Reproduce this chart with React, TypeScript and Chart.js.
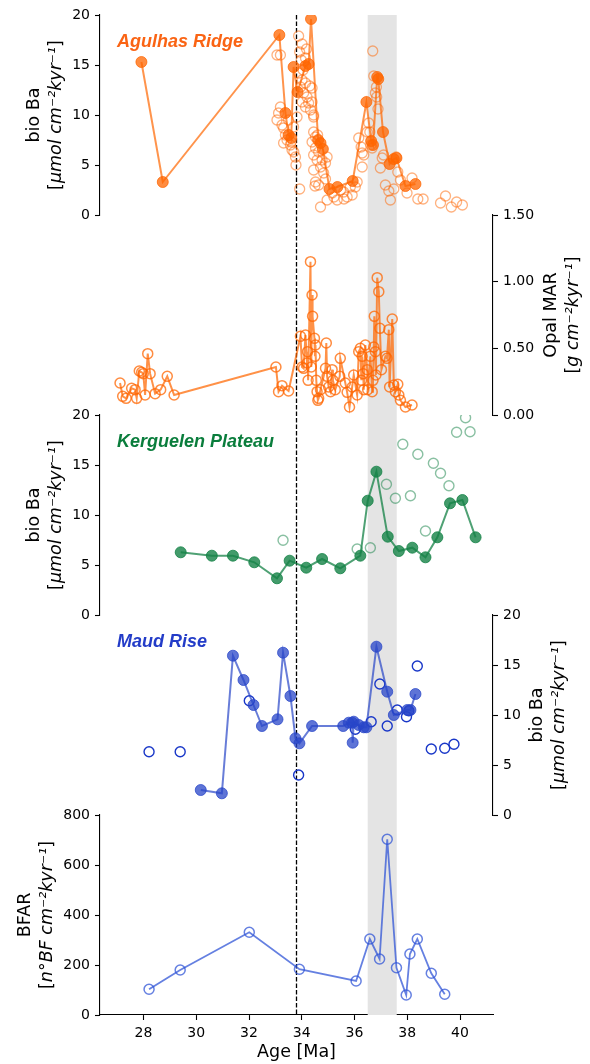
import React, { useEffect, useRef } from 'react';
import { Chart, registerables } from 'chart.js';

Chart.register(...registerables);

// ---------- tick labels ----------
const ageTicks = [28, 30, 32, 34, 36, 38, 40];
const baTicks = [0, 5, 10, 15, 20];
const opalTicks = [0, 0.25, 0.5, 0.75, 1.0, 1.25, 1.5];
const bfarTicks = [0, 200, 400, 600, 800];

// ---------- events ----------
const eotAge = 33.8;
const bandAges = [36.5, 37.6];

// ---------- Agulhas Ridge bio Ba ----------
const agFilledAge = [27.92, 28.73, 33.15, 33.38, 33.5, 33.6, 33.69, 33.84, 34.14, 34.26, 34.35, 34.62, 34.71, 34.8, 35.05, 35.35, 35.93, 36.45, 36.63, 36.7, 36.86, 36.9, 37.08, 37.33, 37.49, 37.59, 37.93, 38.31];
const agFilledBa = [15.3, 3.3, 18.0, 10.2, 8.0, 7.7, 14.8, 12.3, 14.9, 15.1, 19.6, 7.5, 7.2, 6.6, 2.6, 2.8, 3.4, 11.3, 7.4, 7.0, 13.8, 13.6, 8.3, 5.1, 5.6, 5.7, 2.9, 3.1];

const agOpenAge = [33.06, 33.19, 33.88, 33.92, 34.01, 34.14, 34.05, 33.88, 34.01, 33.95, 34.14, 34.07, 34.2, 34.01, 34.26, 34.39, 34.33, 34.45, 34.14, 34.3, 34.39, 34.45, 34.18, 33.98,
  33.19, 33.06, 33.25, 33.12, 33.31, 33.38, 33.44, 33.31, 33.57, 33.63, 33.76, 33.6, 33.69, 33.82, 33.5, 33.78, 33.7, 33.92,
  34.39, 34.52, 34.45, 34.64, 34.58, 34.77, 34.71, 34.9, 34.83, 34.96, 34.52, 34.64, 34.45, 34.9, 34.71, 34.5, 34.6, 34.45, 34.52,
  35.15, 35.34, 35.59, 35.72, 35.91, 35.84, 36.03, 34.96, 35.22, 35.47, 35.6,
  36.16, 36.25, 36.35, 36.29, 36.1, 36.29,
  36.69, 36.73, 36.83, 36.79, 36.89, 36.54, 36.48, 36.67, 36.58, 36.62, 36.84,
  37.05, 36.98, 37.17, 37.3, 37.36, 37.49, 37.64, 37.74, 37.99, 38.18, 38.4, 38.6, 39.26, 39.45, 39.67, 39.87, 40.09, 37.1, 37.58];
const agOpenBa = [16.0, 16.0, 17.9, 16.3, 17.1, 15.7, 14.5, 14.2, 13.5, 12.8, 13.2, 12.2, 11.8, 11.3, 11.2, 12.7, 10.5, 9.8, 10.8, 12.9, 11.3, 10.0, 16.6, 15.5,
  10.8, 9.5, 9.0, 10.2, 8.7, 8.0, 7.5, 7.2, 7.0, 6.5, 5.8, 7.3, 8.8, 9.8, 9.5, 5.0, 6.3, 2.6,
  7.3, 6.7, 6.0, 6.3, 5.5, 5.5, 4.8, 5.2, 4.2, 5.8, 3.3, 3.0, 4.5, 3.6, 0.8, 2.9, 8.0, 8.3, 7.8,
  2.2, 1.5, 2.3, 1.8, 2.0, 2.8, 2.8, 1.5, 1.8, 2.5, 1.6,
  7.7, 6.8, 6.0, 4.8, 3.3, 6.2,
  16.4, 13.9, 12.8, 12.2, 10.6, 9.2, 8.3, 6.7, 8.3, 7.0, 11.8,
  5.7, 4.7, 3.0, 2.4, 1.5, 2.6, 4.3, 3.5, 2.2, 3.7, 1.6, 1.6, 1.2, 1.9, 0.8, 1.3, 1.0, 6.0, 5.8];

// ---------- Agulhas Ridge opal MAR ----------
const opalAge = [27.11, 27.21, 27.34, 27.55, 27.68, 27.74, 27.84, 27.93, 27.99, 28.06, 28.16, 28.25, 28.44, 28.65, 28.9, 29.16,
  33.02, 33.12, 33.25, 33.5, 33.95, 34.01, 34.07, 34.14, 34.2, 34.22, 34.24, 34.33, 34.36, 34.39, 34.41, 34.48, 34.5, 34.52, 34.55, 34.58, 34.61, 34.64, 34.71,
  34.9, 34.93, 34.96, 35.02, 35.09, 35.15, 35.18, 35.27, 35.44, 35.46, 35.65, 35.72, 35.81, 35.91, 35.97, 36.1, 36.16, 36.22, 36.26, 36.29, 36.33, 36.35,
  36.41, 36.48, 36.5, 36.6, 36.67, 36.7, 36.73, 36.75, 36.79, 36.81, 36.86, 36.92, 36.96, 37.02, 37.17, 37.23, 37.3, 37.33, 37.43, 37.49, 37.55, 37.64, 37.68, 37.74, 37.93, 38.18];
const opalMar = [0.24, 0.14, 0.125, 0.2, 0.19, 0.125, 0.33, 0.32, 0.31, 0.15, 0.46, 0.31, 0.16, 0.19, 0.29, 0.15,
  0.36, 0.175, 0.22, 0.18, 0.59, 0.36, 0.35, 0.6, 0.39, 0.475, 0.26, 1.15, 0.36, 0.9, 0.74, 0.575, 0.44, 0.525, 0.26, 0.175, 0.11, 0.125, 0.19,
  0.35, 0.54, 0.29, 0.21, 0.175, 0.34, 0.26, 0.19, 0.29, 0.425, 0.24, 0.17, 0.06, 0.21, 0.3, 0.15, 0.475, 0.5, 0.26, 0.44, 0.31, 0.19,
  0.525, 0.34, 0.19, 0.44, 0.175, 0.26, 0.51, 0.74, 0.475, 0.3, 1.03, 0.925, 0.65, 0.34, 0.44, 0.425, 0.64, 0.21, 0.72, 0.225, 0.175, 0.23, 0.15, 0.11, 0.06, 0.075];

// ---------- Kerguelen Plateau bio Ba ----------
const kgFilledAge = [29.41, 30.59, 31.39, 32.2, 33.06, 33.54, 34.17, 34.77, 35.46, 36.22, 36.5, 36.83, 37.26, 37.68, 38.19, 38.69, 39.14, 39.62, 40.09, 40.59];
const kgFilledBa = [6.27, 5.93, 5.93, 5.27, 3.67, 5.43, 4.73, 5.6, 4.67, 5.93, 11.43, 14.33, 7.83, 6.4, 6.73, 5.77, 7.77, 11.17, 11.5, 7.77];
const kgOpenAge = [33.29, 36.1, 36.6, 37.21, 37.55, 37.83, 38.12, 38.4, 38.69, 38.99, 39.26, 39.58, 39.87, 40.21, 40.38];
const kgOpenBa = [7.47, 6.6, 6.73, 13.07, 11.67, 17.07, 11.93, 16.07, 8.4, 15.17, 14.17, 12.93, 18.27, 19.73, 18.33];

// ---------- Maud Rise bio Ba ----------
const mrFilledAge = [30.17, 30.97, 31.39, 31.79, 32.17, 32.49, 33.08, 33.29, 33.57, 33.76, 33.91, 34.39, 35.57, 35.78, 35.91, 35.93, 35.97, 36.16, 36.35, 36.45, 36.83, 37.24, 37.49, 38.0, 38.12, 38.31];
const mrFilledBa = [2.5, 2.17, 15.93, 13.5, 11.0, 8.9, 9.57, 16.23, 11.9, 7.67, 7.17, 8.9, 8.9, 9.23, 9.23, 7.23, 9.33, 9.0, 8.77, 8.77, 16.83, 12.33, 10.0, 10.5, 10.5, 12.1];
const mrOpenAge = [28.21, 29.39, 32.01, 33.88, 36.03, 36.63, 36.96, 37.24, 37.62, 37.97, 38.06, 38.38, 38.91, 39.42, 39.77];
const mrOpenBa = [6.33, 6.33, 11.43, 4.0, 8.57, 9.33, 13.1, 8.9, 10.5, 9.83, 10.43, 14.9, 6.6, 6.67, 7.07];

// ---------- Maud Rise BFAR ----------
const bfarAge = [28.21, 29.39, 32.01, 33.91, 36.06, 36.58, 36.95, 37.24, 37.59, 37.96, 38.1, 38.38, 38.91, 39.42];
const bfarVal = [103, 180, 331, 183, 136, 304, 224, 703, 189, 80, 244, 304, 167, 83];

// ---------- styling ----------
const ORANGE = '255,102,0';
const GREEN = '20,130,70';
const BLUE = '40,70,200';
const BFBLUE = '50,85,215';

const TICK_SIZE = 14;
const TICK_FONT = `${TICK_SIZE}px "DejaVu Sans"`;
const TITLE_REG = '17.5px "DejaVu Sans"';
const TITLE_IT = 'italic 17.5px "DejaVu Sans"';
const LEFT_W = 100;
const RIGHT_W = 97;
const TICK_LEN = 5;
const TICK_PAD = 5;

const pts = (xs: number[], ys: number[]) => xs.map((x, i) => ({ x, y: ys[i] }));

type Seg = { t: string; it: boolean };
const unitSegs = (u: string): Seg[] => [
  { t: '[', it: false },
  { t: u, it: true },
  { t: ']', it: false },
];

const axisTitles: Record<string, { l1: string; l2: Seg[] }> = {
  yAg: { l1: 'bio Ba', l2: unitSegs('μmol cm⁻²kyr⁻¹') },
  yOpal: { l1: 'Opal MAR', l2: unitSegs('g cm⁻²kyr⁻¹') },
  yKg: { l1: 'bio Ba', l2: unitSegs('μmol cm⁻²kyr⁻¹') },
  yMr: { l1: 'bio Ba', l2: unitSegs('μmol cm⁻²kyr⁻¹') },
  yBf: { l1: 'BFAR', l2: unitSegs('n°BF cm⁻²kyr⁻¹') },
};

const panelLabels = [
  { axis: 'yAg', text: 'Agulhas Ridge', color: 'rgb(250,100,20)' },
  { axis: 'yKg', text: 'Kerguelen Plateau', color: 'rgb(10,125,60)' },
  { axis: 'yMr', text: 'Maud Rise', color: 'rgb(35,60,200)' },
];

function drawRotated(ctx: CanvasRenderingContext2D, segs: Seg[], cx: number, cy: number) {
  const widths = segs.map((s) => {
    ctx.font = s.it ? TITLE_IT : TITLE_REG;
    return ctx.measureText(s.t).width;
  });
  const total = widths.reduce((a, b) => a + b, 0);
  ctx.save();
  ctx.translate(cx, cy);
  ctx.rotate(-Math.PI / 2);
  ctx.textAlign = 'left';
  ctx.textBaseline = 'middle';
  ctx.fillStyle = '#000';
  let x = -total / 2;
  segs.forEach((s, i) => {
    ctx.font = s.it ? TITLE_IT : TITLE_REG;
    ctx.fillText(s.t, x, 0);
    x += widths[i];
  });
  ctx.restore();
}

const decorPlugin = {
  id: 'decor',
  beforeDatasetsDraw(chart: any) {
    const { ctx, chartArea, scales } = chart;
    const xs = scales.x;
    const x0 = xs.getPixelForValue(bandAges[0]);
    const x1 = xs.getPixelForValue(bandAges[1]);
    ctx.save();
    ctx.fillStyle = '#e4e4e4';
    ctx.fillRect(x0, chartArea.top, x1 - x0, chartArea.bottom - chartArea.top);
    const xe = xs.getPixelForValue(eotAge);
    ctx.strokeStyle = '#000';
    ctx.lineWidth = 1.3;
    ctx.setLineDash([4.5, 2]);
    ctx.beginPath();
    ctx.moveTo(xe, chartArea.top);
    ctx.lineTo(xe, chartArea.bottom);
    ctx.stroke();
    ctx.restore();
  },
  afterDraw(chart: any) {
    const { ctx, scales, chartArea } = chart;
    ctx.save();
    Object.keys(axisTitles).forEach((id) => {
      const s = scales[id];
      if (!s) return;
      ctx.font = TICK_FONT;
      const maxW = Math.max(...s.ticks.map((t: any) => ctx.measureText(String(t.label)).width));
      const cy = (s.top + s.bottom) / 2;
      let x1: number, x2: number;
      if (s.position === 'left') {
        const labelLeft = s.right - TICK_LEN - TICK_PAD - maxW;
        x2 = labelLeft - 16;
        x1 = x2 - 22;
      } else {
        const labelRight = s.left + TICK_LEN + TICK_PAD + maxW;
        x1 = labelRight + 17;
        x2 = x1 + 22;
      }
      drawRotated(ctx, [{ t: axisTitles[id].l1, it: false }], x1, cy);
      drawRotated(ctx, axisTitles[id].l2, x2, cy);
    });
    panelLabels.forEach((p) => {
      const s = scales[p.axis];
      ctx.font = 'italic bold 18px "Liberation Sans"';
      ctx.fillStyle = p.color;
      ctx.textAlign = 'left';
      ctx.textBaseline = 'alphabetic';
      ctx.fillText(p.text, chartArea.left + 17, s.top + 32);
    });
    ctx.restore();
  },
};

const visibleY = (pos: 'left' | 'right', min: number, max: number, ticks: number[], digits: number) => ({
  type: 'linear',
  position: pos,
  stack: pos === 'left' ? 'L' : 'R',
  min,
  max,
  afterBuildTicks: (s: any) => {
    s.ticks = ticks.map((v) => ({ value: v }));
  },
  afterFit: (s: any) => {
    s.width = pos === 'left' ? LEFT_W : RIGHT_W;
  },
  border: { display: true, color: '#000', width: 1.1 },
  grid: { display: true, drawOnChartArea: false, drawTicks: true, tickLength: TICK_LEN, tickWidth: 1.1, tickColor: '#000' },
  ticks: {
    color: '#000',
    font: { family: 'DejaVu Sans', size: TICK_SIZE },
    padding: TICK_PAD,
    callback: (v: number) => v.toFixed(digits),
  },
});

const hiddenY = (pos: 'left' | 'right') => ({
  type: 'linear',
  position: pos,
  stack: pos === 'left' ? 'L' : 'R',
  display: false,
  min: 0,
  max: 1,
});

export default function App() {
  const ref = useRef<HTMLCanvasElement | null>(null);
  useEffect(() => {
    if (!ref.current) return;
    Chart.defaults.font.family = 'DejaVu Sans';
    const chart = new Chart(ref.current, {
      type: 'scatter',
      data: {
        datasets: [
          {
            label: 'Agulhas bio Ba',
            data: pts(agFilledAge, agFilledBa),
            yAxisID: 'yAg',
            showLine: true,
            borderColor: `rgba(${ORANGE},0.7)`,
            borderWidth: 2,
            pointRadius: 5.5,
            pointBackgroundColor: `rgba(${ORANGE},0.75)`,
            pointBorderColor: `rgba(${ORANGE},0.75)`,
            pointBorderWidth: 1,
          },
          {
            label: 'Kerguelen bio Ba',
            data: pts(kgFilledAge, kgFilledBa),
            yAxisID: 'yKg',
            showLine: true,
            borderColor: `rgba(${GREEN},0.75)`,
            borderWidth: 2,
            pointRadius: 5.5,
            pointBackgroundColor: `rgba(${GREEN},0.8)`,
            pointBorderColor: `rgba(${GREEN},0.8)`,
            pointBorderWidth: 1,
          },
          {
            label: 'Maud bio Ba',
            data: pts(mrFilledAge, mrFilledBa),
            yAxisID: 'yMr',
            showLine: true,
            borderColor: `rgba(${BLUE},0.7)`,
            borderWidth: 2,
            pointRadius: 5.5,
            pointBackgroundColor: `rgba(${BLUE},0.75)`,
            pointBorderColor: `rgba(${BLUE},0.75)`,
            pointBorderWidth: 1,
          },
          {
            label: 'Opal MAR',
            data: pts(opalAge, opalMar),
            yAxisID: 'yOpal',
            showLine: true,
            borderColor: `rgba(${ORANGE},0.72)`,
            borderWidth: 2,
            pointRadius: 5,
            pointBackgroundColor: 'rgba(0,0,0,0)',
            pointBorderColor: `rgba(${ORANGE},0.75)`,
            pointBorderWidth: 1.5,
          },
          {
            label: 'BFAR',
            data: pts(bfarAge, bfarVal),
            yAxisID: 'yBf',
            showLine: true,
            borderColor: `rgba(${BFBLUE},0.75)`,
            borderWidth: 1.8,
            pointRadius: 5,
            pointBackgroundColor: 'rgba(0,0,0,0)',
            pointBorderColor: `rgba(${BFBLUE},0.75)`,
            pointBorderWidth: 1.5,
          },
          {
            label: 'Agulhas bio Ba (other)',
            data: pts(agOpenAge, agOpenBa),
            yAxisID: 'yAg',
            showLine: false,
            pointRadius: 5,
            pointBackgroundColor: 'rgba(0,0,0,0)',
            pointBorderColor: `rgba(${ORANGE},0.5)`,
            pointBorderWidth: 1.3,
          },
          {
            label: 'Kerguelen bio Ba (other)',
            data: pts(kgOpenAge, kgOpenBa),
            yAxisID: 'yKg',
            showLine: false,
            pointRadius: 5,
            pointBackgroundColor: 'rgba(0,0,0,0)',
            pointBorderColor: `rgba(${GREEN},0.5)`,
            pointBorderWidth: 1.4,
          },
          {
            label: 'Maud bio Ba (other)',
            data: pts(mrOpenAge, mrOpenBa),
            yAxisID: 'yMr',
            showLine: false,
            pointRadius: 5,
            pointBackgroundColor: 'rgba(0,0,0,0)',
            pointBorderColor: 'rgba(25,55,200,1)',
            pointBorderWidth: 1.4,
          },
        ],
      },
      options: {
        responsive: false,
        animation: false,
        devicePixelRatio: 1,
        layout: { padding: { top: 15, left: 0, right: 0, bottom: 0 } },
        plugins: { legend: { display: false }, tooltip: { enabled: false } },
        events: [],
        scales: {
          x: {
            type: 'linear',
            position: 'bottom',
            min: 26.35,
            max: 41.25,
            afterBuildTicks: (s: any) => {
              s.ticks = ageTicks.map((v) => ({ value: v }));
            },
            afterFit: (s: any) => {
              s.height = 49;
            },
            border: { display: true, color: '#000', width: 1.1 },
            grid: { display: true, drawOnChartArea: false, drawTicks: true, tickLength: TICK_LEN, tickWidth: 1.1, tickColor: '#000' },
            ticks: { color: '#000', font: { family: 'DejaVu Sans', size: TICK_SIZE }, padding: TICK_PAD, maxRotation: 0, callback: (v: number) => String(v) },
            title: { display: true, text: 'Age [Ma]', color: '#000', font: { family: 'DejaVu Sans', size: 17.5 }, padding: { top: 4, bottom: 1 } },
          },
          yBf: visibleY('left', 0, 800, bfarTicks, 0),
          hL4: hiddenY('left'),
          yKg: visibleY('left', 0, 20, baTicks, 0),
          hL2: hiddenY('left'),
          yAg: visibleY('left', 0, 20, baTicks, 0),
          hR1: hiddenY('right'),
          yOpal: visibleY('right', 0, 1.5, opalTicks, 2),
          hR3: hiddenY('right'),
          yMr: visibleY('right', 0, 20, baTicks, 0),
          hR5: hiddenY('right'),
        } as any,
      },
      plugins: [decorPlugin],
    } as any);
    return () => chart.destroy();
  }, []);
  return (
    <div style={{ position: 'absolute', left: 0, top: 0, width: 590, height: 1064, background: '#fff' }}>
      <canvas ref={ref} width={590} height={1064} style={{ display: 'block' }} />
    </div>
  );
}
